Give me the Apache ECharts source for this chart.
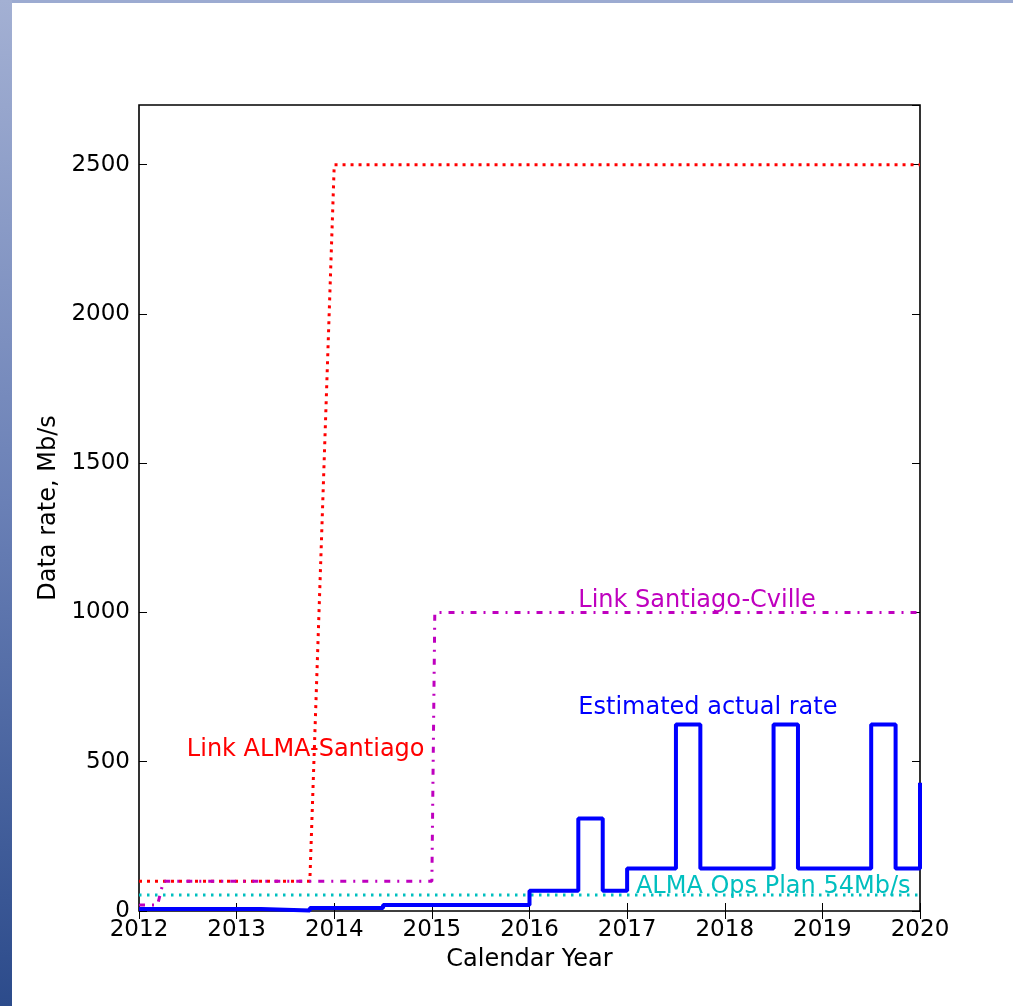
<!DOCTYPE html>
<html>
<head>
<meta charset="utf-8">
<script src="https://cdn.jsdelivr.net/npm/echarts@6/dist/echarts.min.js"></script>
<style>
html,body{margin:0;padding:0;background:#fff;}
#chart{width:1013px;height:1006px;}
</style>
</head>
<body>
<div id="chart"></div>
<script>
// ---- data ----
const xTicks = [2012, 2013, 2014, 2015, 2016, 2017, 2018, 2019, 2020];
const yTicks = [0, 500, 1000, 1500, 2000, 2500];

// Link ALMA-Santiago (red dotted)
const almaSantiagoX = [2012, 2013.75, 2014, 2020];
const almaSantiagoY = [100, 100, 2500, 2500];

// Link Santiago-Cville (magenta dash-dot)
const santiagoCvilleX = [2012, 2012.19, 2012.25, 2015, 2015.03, 2020];
const santiagoCvilleY = [20, 20, 100, 100, 1000, 1000];

// ALMA Ops Plan 54Mb/s (cyan dotted)
const opsPlanX = [2012, 2020];
const opsPlanY = [54, 54];

// Estimated actual rate (blue steps: value holds from x until next x)
const actualX = [2012, 2013.25, 2013.75, 2014.5, 2016, 2016.5, 2016.75, 2017, 2017.5, 2017.75, 2018.5, 2018.75, 2019.5, 2019.75, 2020];
const actualY = [7, 2, 10, 20, 68, 310, 68, 142, 625, 142, 625, 142, 625, 142, 430];

// annotations: [text, x, y(middle), colour]
const noteText = ['Link ALMA-Santiago', 'Link Santiago-Cville', 'Estimated actual rate', 'ALMA Ops Plan 54Mb/s'];
const noteX = [2012.49, 2016.5, 2016.5, 2017.09];
const noteY = [541, 1038, 681, 80];
const noteColor = ['#ff0000', '#bf00bf', '#0000ff', '#00bfbf'];

const zip = (xs, ys) => xs.map((x, i) => [x, ys[i]]);

const FONT = 'DejaVu Sans';
const FS = 23;
const FS_NOTE = 24;

const chart = echarts.init(document.getElementById('chart'), null, {renderer: 'canvas'});

const tickCommon = {show: true, inside: true, length: 8, lineStyle: {color: '#000', width: 1}};

const option = {
  animation: false,
  backgroundColor: '#ffffff',
  grid: {left: 139, right: 93, top: 105, bottom: 95, show: true, borderColor: '#000', borderWidth: 1.6, backgroundColor: '#fff'},
  xAxis: [{
    type: 'value', min: xTicks[0], max: xTicks[xTicks.length - 1], interval: 1,
    name: 'Calendar Year', nameLocation: 'middle', nameGap: 37,
    nameTextStyle: {fontFamily: FONT, fontSize: FS_NOTE, color: '#000'},
    axisLine: {show: false}, splitLine: {show: false},
    axisTick: tickCommon,
    axisLabel: {fontFamily: FONT, fontSize: FS, color: '#000', margin: 8, formatter: v => String(v)}
  }, {
    type: 'value', position: 'top', min: xTicks[0], max: xTicks[xTicks.length - 1], interval: 1,
    axisLine: {show: false}, splitLine: {show: false}, axisTick: tickCommon, axisLabel: {show: false}
  }],
  yAxis: [{
    type: 'value', min: 0, max: 2700, interval: 500,
    name: 'Data rate, Mb/s', nameLocation: 'middle', nameGap: 77, nameRotate: 90,
    nameTextStyle: {fontFamily: FONT, fontSize: FS_NOTE, color: '#000'},
    axisLine: {show: false}, splitLine: {show: false},
    axisTick: tickCommon,
    axisLabel: {fontFamily: FONT, fontSize: FS, color: '#000', margin: 9, showMaxLabel: false,
      formatter: v => (yTicks.indexOf(v) >= 0 ? String(v) : '')}
  }, {
    type: 'value', position: 'right', min: 0, max: 2700, interval: 500,
    axisLine: {show: false}, splitLine: {show: false}, axisTick: tickCommon, axisLabel: {show: false}
  }],
  series: [
    {
      type: 'line', name: 'Link ALMA-Santiago', data: zip(almaSantiagoX, almaSantiagoY),
      showSymbol: false, symbol: 'none', z: 3,
      lineStyle: {color: '#ff0000', width: 3, type: [3, 5]}
    },
    {
      type: 'line', name: 'Link Santiago-Cville', data: zip(santiagoCvilleX, santiagoCvilleY),
      showSymbol: false, symbol: 'none', z: 3,
      lineStyle: {color: '#bf00bf', width: 3, type: [6, 7, 2, 7]}
    },
    {
      type: 'line', name: 'ALMA Ops Plan', data: zip(opsPlanX, opsPlanY),
      showSymbol: false, symbol: 'none', z: 3,
      lineStyle: {color: '#00bfbf', width: 3, type: [2.5, 5.5]}
    },
    {
      type: 'line', name: 'Estimated actual rate', data: zip(actualX, actualY), step: 'end',
      showSymbol: false, symbol: 'none', z: 4, clip: false,
      lineStyle: {color: '#0000ff', width: 4}
    }
  ],
  graphic: [
    {type: 'rect', shape: {x: 0, y: 0, width: 1013, height: 3}, style: {fill: '#9cabd1'}, z: 100, silent: true},
    {type: 'rect', shape: {x: 0, y: 0, width: 12, height: 1006}, z: 100, silent: true,
      style: {fill: new echarts.graphic.LinearGradient(0, 0, 0, 1, [
        {offset: 0, color: '#a3b0d3'},
        {offset: 0.5, color: '#6a80b6'},
        {offset: 1, color: '#2c4b8b'}
      ])}}
  ]
};

chart.setOption(option);

// place annotations via the chart's own coordinate system
const notes = noteText.map((t, i) => {
  const p = chart.convertToPixel({gridIndex: 0}, [noteX[i], noteY[i]]);
  return {
    type: 'text', x: p[0], y: p[1], z: 50, silent: true,
    style: {text: t, fill: noteColor[i], font: FS_NOTE + 'px "' + FONT + '"', align: 'left', verticalAlign: 'middle'}
  };
});
chart.setOption({graphic: option.graphic.concat(notes)});
</script>
</body>
</html>
